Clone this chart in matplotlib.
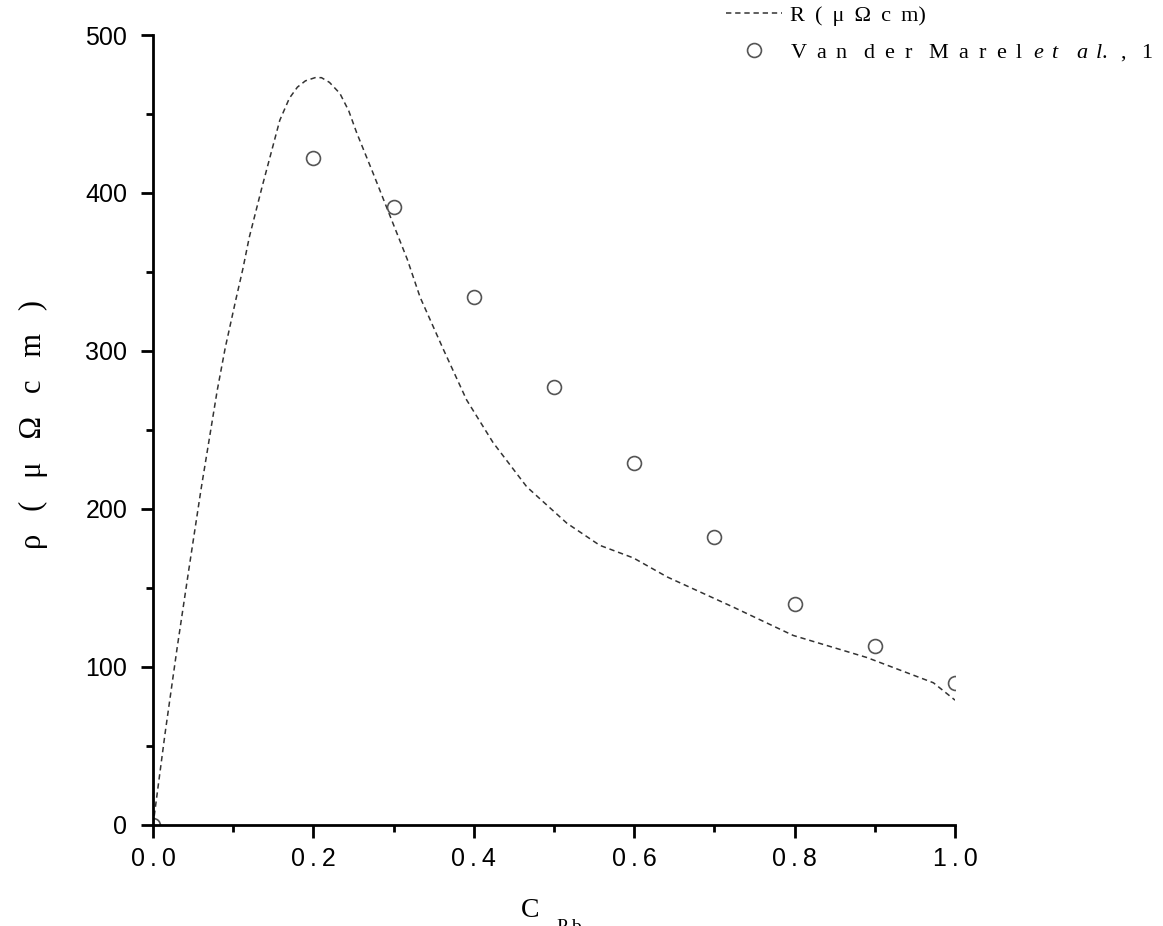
import numpy as np
import matplotlib.pyplot as plt
from matplotlib.ticker import MultipleLocator

plt.rcParams["mathtext.fontset"] = "custom"
plt.rcParams["mathtext.rm"] = "Liberation Serif"
plt.rcParams["mathtext.it"] = "Liberation Serif:italic"

# calculated resistivity curve
c_calc = [0.0, 0.015, 0.03, 0.045, 0.06, 0.08, 0.09, 0.103, 0.112, 0.12, 0.136,
          0.158, 0.17, 0.18, 0.19, 0.202, 0.21, 0.22, 0.233, 0.244,
          0.254, 0.274, 0.299, 0.317, 0.333, 0.362, 0.391, 0.424, 0.466, 0.516,
          0.557, 0.599, 0.641, 0.723, 0.798, 0.890, 0.973, 1.0]
rho_calc = [0, 58, 112, 163, 213, 275, 302, 332, 352, 372, 404,
            446, 460, 467, 471, 473, 473, 470, 463, 452,
            438, 413, 381, 358, 334, 301, 269, 242, 214, 191,
            177, 169, 157, 138, 120, 106, 90, 79]

# experimental points, Van der Marel et al.
c_exp = [0.0, 0.2, 0.3, 0.4, 0.5, 0.6, 0.7, 0.8, 0.9, 1.0]
rho_exp = [0, 422, 391, 334, 277, 229, 182, 140, 113, 90]

ts = "\u2009"
x_ticks = [0.0, 0.2, 0.4, 0.6, 0.8, 1.0]
x_tick_labels = [ts.join(f"{v:.1f}") for v in x_ticks]
y_ticks = [0, 100, 200, 300, 400, 500]
y_tick_labels = [str(v) for v in y_ticks]

sep = " " + ts
lab_calc = sep.join("R(μΩcm") + ")"
lab_exp = ("   ".join(sep.join(w) for w in ["Van", "der", "Marel"]) + "  "
           + r"$\mathit{e}\ \,\mathit{t}\ \ \ \,\mathit{a}\ \,\mathit{l.}$"
           + sep + "," + sep + " 1")

fig = plt.figure(figsize=(11.63, 9.26), dpi=100)
ax = fig.add_axes([0.1316, 0.1091, 0.6896, 0.8531])

ax.plot(c_calc, rho_calc, color="#333333", linestyle=(0, (3.5, 2.5)), linewidth=1.1,
        label=lab_calc)
ax.plot(c_exp, rho_exp, linestyle="none", marker="o", markersize=10,
        markerfacecolor="none", markeredgecolor="#555555", markeredgewidth=1.2,
        label=lab_exp)

ax.set_xlim(0, 1.0)
ax.set_ylim(0, 500)
ax.spines["top"].set_visible(False)
ax.spines["right"].set_visible(False)
for s in ["left", "bottom"]:
    ax.spines[s].set_linewidth(2)
    ax.spines[s].set_zorder(5)

ax.set_xticks(x_ticks)
ax.set_xticklabels(x_tick_labels)
ax.set_yticks(y_ticks)
ax.set_yticklabels(y_tick_labels)
ax.xaxis.set_minor_locator(MultipleLocator(0.1))
ax.yaxis.set_minor_locator(MultipleLocator(50))
ax.tick_params(which="major", length=9, width=2, direction="out", labelsize=18)
ax.tick_params(axis="x", which="major", pad=7)
ax.tick_params(axis="y", which="major", pad=9.5)
ax.tick_params(which="minor", length=5, width=2, direction="out")
for lab in ax.get_xticklabels() + ax.get_yticklabels():
    lab.set_fontfamily(["Liberation Sans", "DejaVu Sans"])

ax.set_ylabel("ρ   (   μ   Ω   c   m   )", family="Liberation Serif", fontsize=22)
ax.yaxis.set_label_coords(-0.131, 0.507)
fig.text(0.456, 0.0097, "C", family="Liberation Serif", fontsize=20,
         ha="center", va="baseline")
fig.text(0.479, -0.006, "P b", family="Liberation Serif", fontsize=14,
         ha="left", va="baseline")

leg = fig.legend(loc="upper left", bbox_to_anchor=(0.617, 1.004), frameon=False,
                 prop={"family": ["Liberation Serif", "DejaVu Serif"], "size": 16},
                 handlelength=2.5, handletextpad=0.35, labelspacing=0.75,
                 borderaxespad=0)

plt.savefig("out.png", dpi=100)
